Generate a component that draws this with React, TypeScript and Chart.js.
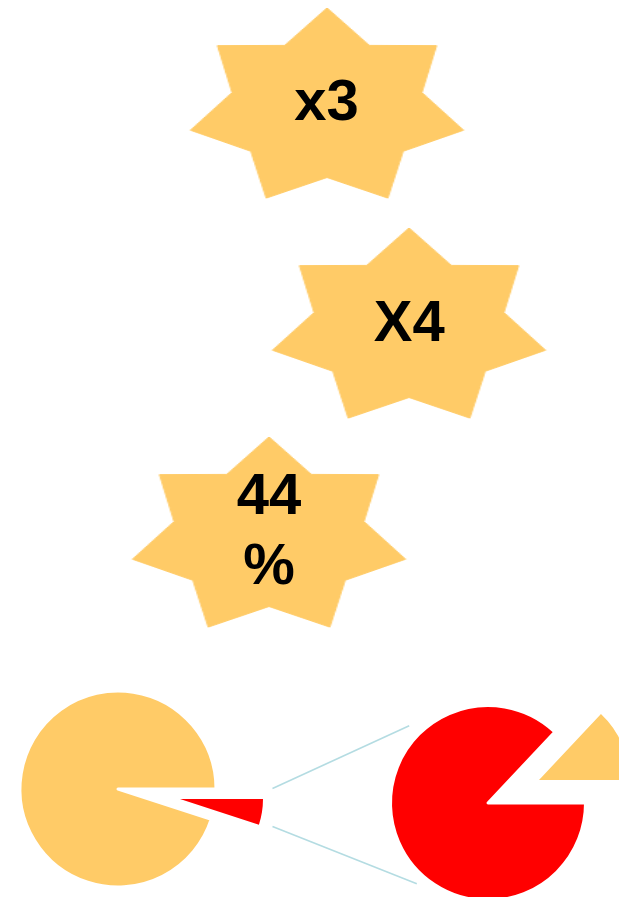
import React, { useEffect, useRef } from "react";
import { Chart, registerables } from "chart.js";

Chart.register(...registerables);

// ---------- data ----------
const starLabels = ["x3", "X4", "44 %"];
// 7-spike star outline as radar values (outer, inner, outer, ...)
const starSpikeRadii = [1, 0.695, 1, 0.695, 1, 0.695, 1, 0.695, 1, 0.695, 1, 0.695, 1, 0.695];

const mainPieCategories = ["Highlighted", "Rest"];
const mainPieValues = [5, 95];
const subPieCategories = ["Rest", "Highlighted"];
const subPieValues = [87, 13];

// ---------- styles / layout ----------
const ORANGE = "#FFCB67";
const RED = "#FF0000";
const LINK = "#B4DCE2";

const PAGE_W = 619;
const PAGE_H = 897;

const STAR_R = 100;
const STAR_STRETCH = 1.4;
const STAR_CENTERS = [
  { x: 326.5, y: 107.5 },
  { x: 409.3, y: 328.2 },
  { x: 269, y: 536.7 },
];

const MAIN_PIE = { x: 117.7, y: 789.2, r: 96.5, explodeR: 83, explode: 63 };
const SUB_PIE = { x: 488, y: 802.5, r: 96, explodeR: 90.5, explode: 55.5 };
const SLICE_GAP = 3;
const ROTATION = 90;

const connectorLinks = [
  [
    { x: 272.5, y: 788.5 },
    { x: 409.2, y: 725.7 },
  ],
  [
    { x: 272.5, y: 826.5 },
    { x: 416.8, y: 883.8 },
  ],
];

function sliceMidAngle(values: number[], index: number): number {
  const total = values.reduce((a, b) => a + b, 0);
  let before = 0;
  for (let i = 0; i < index; i++) before += values[i];
  const mid = before + values[index] / 2;
  return ((ROTATION - 90 + (mid / total) * 360) * Math.PI) / 180;
}

const noPlugins = {
  legend: { display: false },
  tooltip: { enabled: false },
  title: { display: false },
};

function ChartCanvas(props: { make: () => any; width: number; height: number; style: React.CSSProperties }) {
  const ref = useRef<HTMLCanvasElement>(null);
  useEffect(() => {
    const chart = new Chart(ref.current as HTMLCanvasElement, props.make());
    return () => chart.destroy();
  }, []);
  return <canvas ref={ref} width={props.width} height={props.height} style={props.style} />;
}

function Star({ cx, cy, label }: { cx: number; cy: number; label: string }) {
  const size = STAR_R * 2;
  const make = () => ({
    type: "radar",
    data: {
      labels: starSpikeRadii.map(() => ""),
      datasets: [
        {
          data: starSpikeRadii,
          backgroundColor: ORANGE,
          borderColor: ORANGE,
          borderWidth: 1,
          pointRadius: 0,
          fill: true,
          tension: 0,
        },
      ],
    },
    options: {
      responsive: false,
      animation: false,
      events: [],
      layout: { padding: 0 },
      scales: {
        r: {
          display: false,
          min: 0,
          max: 1,
          ticks: { display: false },
          pointLabels: { display: false },
          grid: { display: false },
          angleLines: { display: false },
        },
      },
      plugins: noPlugins,
    },
  });
  return (
    <>
      <div
        style={{
          position: "absolute",
          left: cx - STAR_R,
          top: cy - STAR_R,
          width: size,
          height: size,
          transform: `scaleX(${STAR_STRETCH})`,
          transformOrigin: "50% 50%",
        }}
      >
        <ChartCanvas make={make} width={size} height={size} style={{ display: "block" }} />
      </div>
      <div
        style={{
          position: "absolute",
          left: cx - STAR_R * STAR_STRETCH,
          top: cy - STAR_R,
          width: STAR_R * STAR_STRETCH * 2,
          height: size,
          display: "flex",
          alignItems: "center",
          justifyContent: "center",
          paddingBottom: 15,
          boxSizing: "border-box",
        }}
      >
        <div
          style={{
            width: 120,
            textAlign: "center",
            fontFamily: "'Liberation Sans', Arial, sans-serif",
            fontWeight: "bold",
            fontSize: 58,
            lineHeight: "70px",
            color: "#000",
          }}
        >
          {label}
        </div>
      </div>
    </>
  );
}

function PieLayer(props: {
  cx: number;
  cy: number;
  radius: number;
  labels: string[];
  values: number[];
  colors: string[];
  borders: number[];
}) {
  const size = 240;
  const make = () => ({
    type: "pie",
    data: {
      labels: props.labels,
      datasets: [
        {
          data: props.values,
          backgroundColor: props.colors,
          borderColor: "#FFFFFF",
          borderWidth: props.borders,
          borderJoinStyle: "round",
          hoverOffset: 0,
        },
      ],
    },
    options: {
      responsive: false,
      animation: false,
      events: [],
      radius: props.radius,
      rotation: ROTATION,
      layout: { padding: 0 },
      plugins: noPlugins,
    },
  });
  return (
    <ChartCanvas
      make={make}
      width={size}
      height={size}
      style={{ position: "absolute", left: props.cx - size / 2, top: props.cy - size / 2 }}
    />
  );
}

function Connectors() {
  const make = () => ({
    type: "scatter",
    data: {
      datasets: connectorLinks.map((seg) => ({
        data: seg,
        showLine: true,
        borderColor: LINK,
        borderWidth: 1.6,
        pointRadius: 0,
      })),
    },
    options: {
      responsive: false,
      animation: false,
      events: [],
      layout: { padding: 0 },
      scales: {
        x: { type: "linear", min: 0, max: PAGE_W, display: false },
        y: { type: "linear", min: 0, max: PAGE_H, reverse: true, display: false },
      },
      plugins: noPlugins,
    },
  });
  return (
    <ChartCanvas make={make} width={PAGE_W} height={PAGE_H} style={{ position: "absolute", left: 0, top: 0 }} />
  );
}

export default function App() {
  const mainMid = sliceMidAngle(mainPieValues, 0);
  const subMid = sliceMidAngle(subPieValues, 1);
  return (
    <div
      style={{
        position: "fixed",
        left: 0,
        top: 0,
        width: PAGE_W,
        height: PAGE_H,
        overflow: "hidden",
        background: "#FFFFFF",
      }}
    >
      {STAR_CENTERS.map((c, i) => (
        <Star key={i} cx={c.x} cy={c.y} label={starLabels[i]} />
      ))}

      <Connectors />

      {/* main pie: big remainder slice */}
      <PieLayer
        cx={MAIN_PIE.x}
        cy={MAIN_PIE.y}
        radius={MAIN_PIE.r + SLICE_GAP / 2}
        labels={mainPieCategories}
        values={mainPieValues}
        colors={["rgba(0,0,0,0)", ORANGE]}
        borders={[0, SLICE_GAP]}
      />
      {/* main pie: pulled-out slice */}
      <PieLayer
        cx={MAIN_PIE.x + Math.cos(mainMid) * MAIN_PIE.explode}
        cy={MAIN_PIE.y + Math.sin(mainMid) * MAIN_PIE.explode}
        radius={MAIN_PIE.explodeR}
        labels={mainPieCategories}
        values={mainPieValues}
        colors={[RED, "rgba(0,0,0,0)"]}
        borders={[0, 0]}
      />

      {/* sub pie: big slice */}
      <PieLayer
        cx={SUB_PIE.x}
        cy={SUB_PIE.y}
        radius={SUB_PIE.r + SLICE_GAP / 2}
        labels={subPieCategories}
        values={subPieValues}
        colors={[RED, "rgba(0,0,0,0)"]}
        borders={[SLICE_GAP, 0]}
      />
      {/* sub pie: pulled-out slice */}
      <PieLayer
        cx={SUB_PIE.x + Math.cos(subMid) * SUB_PIE.explode}
        cy={SUB_PIE.y + Math.sin(subMid) * SUB_PIE.explode}
        radius={SUB_PIE.explodeR}
        labels={subPieCategories}
        values={subPieValues}
        colors={["rgba(0,0,0,0)", ORANGE]}
        borders={[0, 0]}
      />
    </div>
  );
}
